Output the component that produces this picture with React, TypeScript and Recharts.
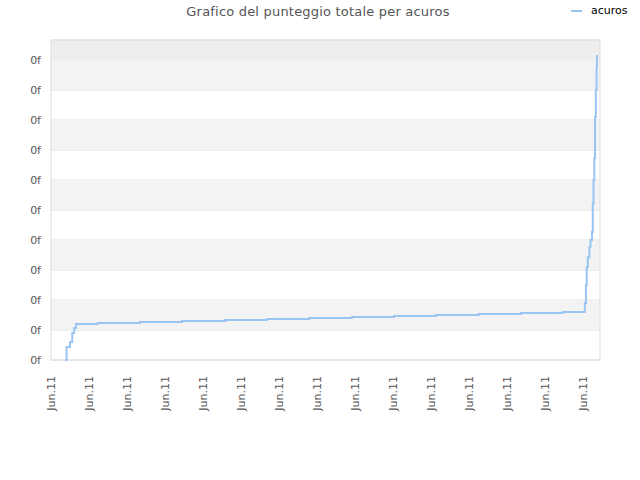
import React from "react";
import {
  LineChart,
  Line,
  XAxis,
  YAxis,
  CartesianGrid,
  ReferenceArea,
} from "recharts";

// x = days from the first tick, y = total score
const days: number[] = [
  0.37, 0.41, 0.5, 0.56, 0.61, 0.66, 1.23, 2.34, 3.45, 4.58, 5.68, 6.79, 7.92,
  9.03, 10.13, 11.26, 12.37, 13.47, 14.05, 14.08, 14.1, 14.13, 14.17, 14.2,
  14.24, 14.26, 14.28, 14.3, 14.32, 14.34, 14.36, 14.37,
];
const scores: number[] = [
  0, 0.43, 0.6, 0.9, 1.07, 1.2, 1.23, 1.27, 1.3, 1.33, 1.37, 1.4, 1.43, 1.47,
  1.5, 1.53, 1.57, 1.6, 1.9, 2.5, 3.1, 3.43, 3.77, 4.0, 4.27, 5.23, 6.0, 6.73,
  8.1, 9.0, 9.77, 10.17,
];
const xTicks: number[] = [0, 1, 2, 3, 4, 5, 6, 7, 8, 9, 10, 11, 12, 13, 14];
const yTicks: number[] = [0, 1, 2, 3, 4, 5, 6, 7, 8, 9, 10];
const xLabel = "Jun.11";
const yLabel = "0f";

const X_MAX = 14.45;
const Y_MAX = 10.67;

const data = days.map((d, i) => ({ t: d, acuros: scores[i] }));

const LINE_COLOR = "#99c5f2";
const FONT = "'DejaVu Sans', sans-serif";

const XTick = ({ x, y }: any) => (
  <text
    x={x}
    y={y}
    transform={`rotate(-90 ${x} ${y + 8})`}
    fontSize={11}
    fontFamily={FONT}
    fill="#555"
    textAnchor="end"
    dominantBaseline="central"
  >
    <tspan x={x} dy={8}>{xLabel}</tspan>
  </text>
);

const App: React.FC = () => {
  return (
    <div style={{ position: "absolute", left: 0, top: 0, width: 640, height: 480, background: "#fff" }}>
      <div
        style={{
          position: "absolute",
          top: 4,
          left: 0,
          width: 636,
          textAlign: "center",
          fontFamily: FONT,
          fontSize: 13,
          color: "#555",
          letterSpacing: 0.2,
        }}
      >
        Grafico del punteggio totale per acuros
      </div>
      <div
        style={{
          position: "absolute",
          top: 4,
          left: 571,
          display: "flex",
          alignItems: "center",
          gap: 9,
          fontFamily: FONT,
          fontSize: 11,
          color: "#000",
        }}
      >
        <span style={{ display: "inline-block", width: 11, height: 2, backgroundColor: LINE_COLOR }}></span>
        <span>acuros</span>
      </div>
      <LineChart
        width={640}
        height={480}
        data={data}
        margin={{ top: 40, right: 40, left: 0, bottom: 0 }}
      >
        {/* alternating bands */}
        {yTicks.map((v) =>
          v % 2 === 1 ? (
            <ReferenceArea
              key={`band-${v}`}
              x1={0}
              x2={X_MAX}
              y1={v}
              y2={v + 1}
              fill="#f3f3f3"
              fillOpacity={1}
              stroke="none"
            />
          ) : null
        )}
        <ReferenceArea
          x1={0}
          x2={X_MAX}
          y1={10}
          y2={Y_MAX}
          fill="#eeeeee"
          fillOpacity={1}
          stroke="none"
        />
        <CartesianGrid vertical={false} stroke="#e0e0e0" />
        <ReferenceArea
          x1={0}
          x2={X_MAX}
          y1={0}
          y2={Y_MAX}
          fill="none"
          stroke="#dcdcdc"
        />
        <XAxis
          dataKey="t"
          type="number"
          domain={[0, X_MAX]}
          ticks={xTicks}
          interval={0}
          height={120}
          axisLine={false}
          tickLine={false}
          tick={<XTick />}
        />
        <YAxis
          type="number"
          domain={[0, Y_MAX]}
          ticks={yTicks}
          width={51}
          axisLine={false}
          tickLine={false}
          tickFormatter={() => yLabel}
          tick={{ fontSize: 11, fontFamily: FONT, fill: "#555" }}
          tickMargin={4}
        />
        <Line
          type="stepAfter"
          dataKey="acuros"
          stroke={LINE_COLOR}
          strokeWidth={2}
          dot={false}
          isAnimationActive={false}
        />
      </LineChart>
    </div>
  );
};

export default App;
